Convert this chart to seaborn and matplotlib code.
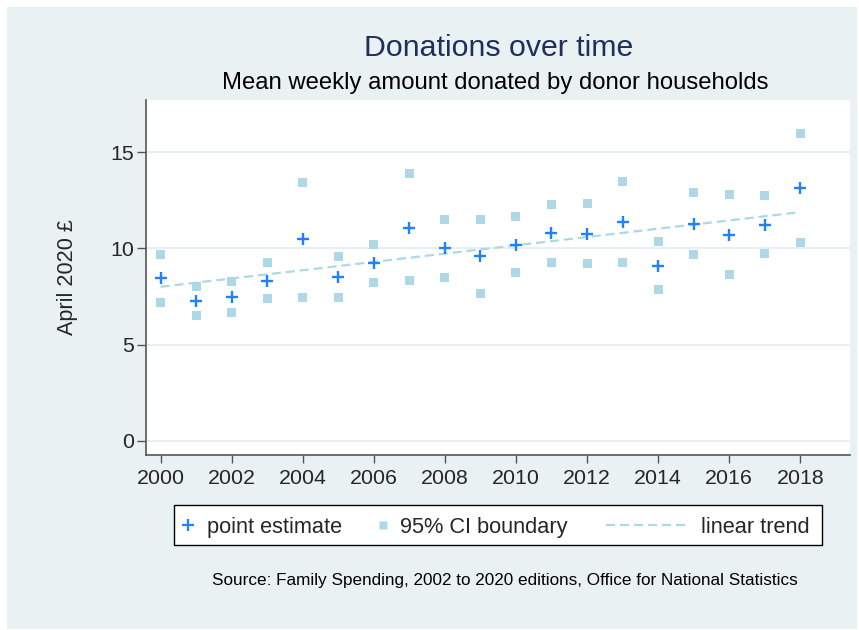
import matplotlib
matplotlib.use("Agg")
import matplotlib.pyplot as plt
from matplotlib.lines import Line2D
from matplotlib.patches import Rectangle
import seaborn as sns
import pandas as pd

# Mean weekly donation per donor household, April 2020 pounds
years = list(range(2000, 2019))
estimate = [8.44, 7.25, 7.49, 8.30, 10.47, 8.53, 9.22, 11.07, 10.02, 9.58,
            10.19, 10.79, 10.76, 11.38, 9.10, 11.28, 10.69, 11.21, 13.11]
ci_lower = [7.20, 6.50, 6.69, 7.37, 7.46, 7.46, 8.20, 8.34, 8.51, 7.68,
            8.73, 9.27, 9.19, 9.27, 7.87, 9.70, 8.63, 9.74, 10.29]
ci_upper = [9.69, 8.01, 8.27, 9.27, 13.42, 9.60, 10.22, 13.86, 11.49, 11.49,
            11.64, 12.30, 12.35, 13.49, 10.34, 12.92, 12.78, 12.73, 15.97]
x_ticks = list(range(2000, 2019, 2))
y_ticks = [0, 5, 10, 15]
legend_labels = ["point estimate", "95% CI boundary", "linear trend"]

df = pd.DataFrame({"year": years, "estimate": estimate,
                   "lower": ci_lower, "upper": ci_upper})
ci_long = pd.concat([
    df[["year", "lower"]].rename(columns={"lower": "value"}),
    df[["year", "upper"]].rename(columns={"upper": "value"}),
])

sns.set_style("white")
plt.rcParams["font.family"] = ["Liberation Sans", "DejaVu Sans"]

W, H = 859, 630
BG = "#EAF1F3"
PLUS = "#1C82FF"
CI = "#ADD8E6"
DASH = (0, (4.1, 2.2))


def fx(px):
    return px / W


def fy(py):
    return 1 - py / H


fig = plt.figure(figsize=(W / 100, H / 100), dpi=100)
fig.patch.set_facecolor("white")
fig.add_artist(Rectangle((fx(7), fy(629)), fx(850), 622 / H,
                         transform=fig.transFigure, facecolor=BG,
                         edgecolor="none", zorder=-10))

ax = fig.add_axes([fx(146), fy(455), fx(704), 355 / H])
ax.set_facecolor("white")

sns.scatterplot(data=ci_long, x="year", y="value", marker="s", s=42,
                color=CI, edgecolor="none", ax=ax, zorder=3)
sns.regplot(data=df, x="year", y="estimate", scatter=False, ci=None,
            ax=ax, truncate=True,
            line_kws=dict(color=CI, lw=1.6, ls=DASH, zorder=2))
sns.scatterplot(data=df, x="year", y="estimate", marker="+", s=75,
                color=PLUS, linewidth=1.7, ax=ax, zorder=4)

ax.set_xlim(1999.59, 2019.4)
ax.set_ylim(-0.73, 17.7)
ax.set_xticks(x_ticks)
ax.set_yticks(y_ticks)
ax.set_xticklabels([str(t) for t in x_ticks], fontsize=15.4)
ax.set_yticklabels([str(t) for t in y_ticks], fontsize=15.4)
ax.tick_params(axis="x", length=6, width=1, color="#555555", pad=4,
               bottom=True)
ax.tick_params(axis="y", length=6.5, width=1, color="#555555", pad=2,
               left=True)
ax.yaxis.grid(True, color="#E8EEF1", lw=1.4)
ax.set_axisbelow(True)
for side in ("top", "right"):
    ax.spines[side].set_visible(False)
for side in ("left", "bottom"):
    ax.spines[side].set_color("#555555")
    ax.spines[side].set_linewidth(1.2)

ax.set_xlabel("")
ax.set_ylabel("")
fig.text(fx(68), fy(277), "April 2020 £", rotation=90, ha="center",
         va="center", fontsize=15.6)

fig.text(fx(499), fy(48), "Donations over time",
         ha="center", va="center", fontsize=21.8, color="#1F2F5C")
fig.text(fx(495), fy(83), "Mean weekly amount donated by donor households",
         ha="center", va="center", fontsize=17.2, color="black")
fig.text(fx(505), fy(581),
         "Source: Family Spending, 2002 to 2020 editions, Office for National Statistics",
         ha="center", va="center", fontsize=12.3, color="black")

# Legend box drawn in figure coordinates
fig.add_artist(Rectangle((fx(174), fy(545)), fx(648), 40 / H,
                         transform=fig.transFigure, facecolor="white",
                         edgecolor="black", lw=1.0, zorder=5))
ly = fy(525)
fig.add_artist(Line2D([fx(188)], [ly], transform=fig.transFigure,
                      ls="none", marker="+", ms=8, mew=1.6, color=PLUS,
                      zorder=6))
fig.add_artist(Line2D([fx(383)], [ly], transform=fig.transFigure,
                      ls="none", marker="s", ms=5.5, mec="none", color=CI,
                      zorder=6))
fig.add_artist(Line2D([fx(606), fx(687)], [ly, ly], transform=fig.transFigure,
                      color=CI, lw=1.6, ls=DASH, zorder=6))
for x0, lab in zip([207, 400, 701], legend_labels):
    fig.text(fx(x0), ly, lab, ha="left", va="center_baseline",
             fontsize=15.7, zorder=7)

fig.savefig("out.png", dpi=100, facecolor=fig.get_facecolor())
